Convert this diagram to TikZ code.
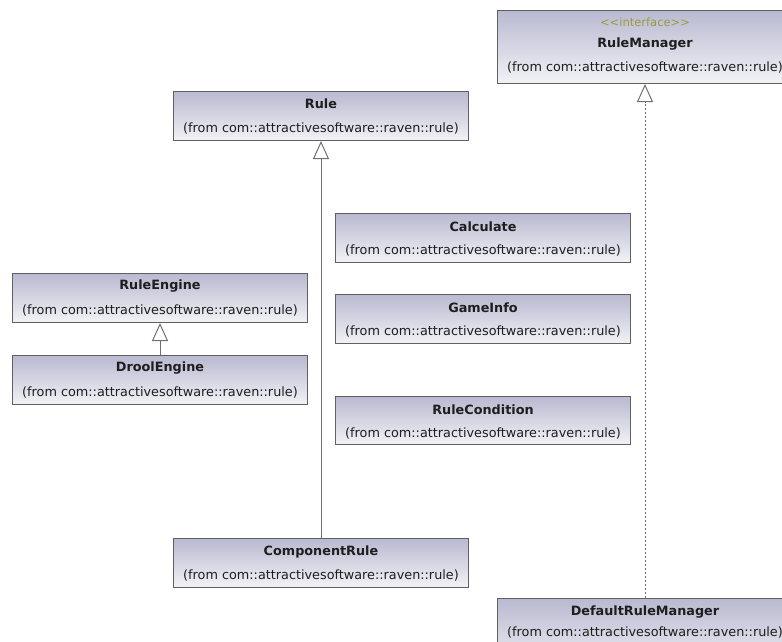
\documentclass[tikz,border=0pt]{standalone}
\usepackage{fontspec}
\setmainfont[Ligatures=TeXOff]{DejaVu Sans}
\usetikzlibrary{arrows.meta}

\definecolor{boxtop}{HTML}{B9B9D1}
\definecolor{boxbottom}{HTML}{F2F2F6}
\definecolor{boxedge}{HTML}{606060}
\definecolor{linkgray}{HTML}{707070}
\definecolor{txt}{HTML}{1E1E1E}
\definecolor{stereo}{HTML}{9A9A40}

\tikzset{
  x=1pt, y=-1pt,
  classbox/.style={draw=boxedge, line width=1pt, top color=boxtop, bottom color=boxbottom,
    minimum width=295pt, minimum height=49pt, anchor=north west, inner sep=0pt},
  classname/.style={font=\fontsize{12.8}{15}\selectfont\bfseries, text=txt, inner sep=0pt, anchor=center},
  classfrom/.style={font=\fontsize{12.8}{15}\selectfont, text=txt, inner sep=0pt, anchor=center},
  stereotype/.style={font=\fontsize{11.5}{14}\selectfont, text=stereo, inner sep=0pt, anchor=center},
  generalize/.style={draw=linkgray, line width=1pt,
    -{Triangle[length=18pt, width=16pt, fill=white]}},
  realize/.style={generalize, dash pattern=on 2pt off 2pt},
}

\begin{document}
\begin{tikzpicture}
\useasboundingbox (0,0) rectangle (782,642);
\clip (0,0) rectangle (782,642);
\fill[white] (0,0) rectangle (782,642);

% class boxes
\node[classbox] (rule) at (173,91) {};
\node[classbox] (ruleengine) at (12,273) {};
\node[classbox] (droolengine) at (12,355) {};
\node[classbox] (calculate) at (335,213) {};
\node[classbox] (gameinfo) at (335,294) {};
\node[classbox, minimum height=48pt] (rulecondition) at (335,396) {};
\node[classbox] (componentrule) at (173,538) {};
\node[classbox, minimum height=73pt] (rulemanager) at (497,10) {};
\node[classbox, minimum height=73pt] (defaultrulemanager) at (497,598) {};

% labels
\node[classname] (rule-n) at ([yshift=-13pt]rule.north) {Rule};
\node[classfrom] (rule-f) at ([yshift=-37pt]rule.north) {(from com::attractivesoftware::raven::rule)};

\node[classname] (ruleengine-n) at ([yshift=-13pt]ruleengine.north) {RuleEngine};
\node[classfrom] (ruleengine-f) at ([yshift=-37pt]ruleengine.north) {(from com::attractivesoftware::raven::rule)};

\node[classname] (droolengine-n) at ([yshift=-13pt]droolengine.north) {DroolEngine};
\node[classfrom] (droolengine-f) at ([yshift=-37pt]droolengine.north) {(from com::attractivesoftware::raven::rule)};

\node[classname] (calculate-n) at ([yshift=-14pt]calculate.north) {Calculate};
\node[classfrom] (calculate-f) at ([yshift=-37pt]calculate.north) {(from com::attractivesoftware::raven::rule)};

\node[classname] (gameinfo-n) at ([yshift=-14pt]gameinfo.north) {GameInfo};
\node[classfrom] (gameinfo-f) at ([yshift=-37pt]gameinfo.north) {(from com::attractivesoftware::raven::rule)};

\node[classname] (rulecondition-n) at ([yshift=-14pt]rulecondition.north) {RuleCondition};
\node[classfrom] (rulecondition-f) at ([yshift=-37pt]rulecondition.north) {(from com::attractivesoftware::raven::rule)};

\node[classname] (componentrule-n) at ([yshift=-14pt]componentrule.north) {ComponentRule};
\node[classfrom] (componentrule-f) at ([yshift=-37pt]componentrule.north) {(from com::attractivesoftware::raven::rule)};

\node[stereotype] (rulemanager-s) at ([yshift=-12pt]rulemanager.north) {<<interface>>};
\node[classname] (rulemanager-n) at ([yshift=-34pt]rulemanager.north) {RuleManager};
\node[classfrom] (rulemanager-f) at ([yshift=-57pt]rulemanager.north) {(from com::attractivesoftware::raven::rule)};

\node[classname] (defaultrulemanager-n) at ([yshift=-14pt]defaultrulemanager.north) {DefaultRuleManager};
\node[classfrom] (defaultrulemanager-f) at ([yshift=-34pt]defaultrulemanager.north) {(from com::attractivesoftware::raven::rule)};

% relations
\draw[generalize] (componentrule.north) -- (rule.south);
\draw[generalize] (droolengine.north) -- (ruleengine.south);
\draw[realize] (defaultrulemanager.north) -- (rulemanager.south);
\end{tikzpicture}
\end{document}
